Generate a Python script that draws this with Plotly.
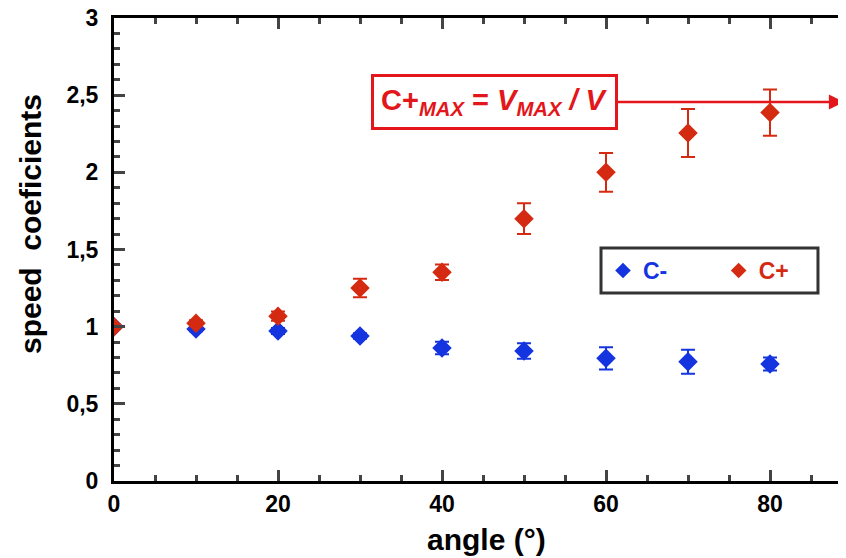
import plotly.graph_objects as go

angles = [0, 10, 20, 30, 40, 50, 60, 70, 80]
c_minus = [1.0, 0.985, 0.972, 0.94, 0.862, 0.842, 0.795, 0.773, 0.758]
c_minus_err = [0.0, 0.015, 0.02, 0.018, 0.04, 0.05, 0.072, 0.078, 0.042]
c_plus = [1.0, 1.022, 1.068, 1.25, 1.352, 1.70, 2.0, 2.255, 2.387]
c_plus_err = [0.0, 0.02, 0.03, 0.06, 0.05, 0.10, 0.125, 0.156, 0.15]

y_tickvals = [0, 0.5, 1, 1.5, 2, 2.5, 3]
y_ticktext = ["0", "0,5", "1", "1,5", "2", "2,5", "3"]
x_tickvals = [0, 20, 40, 60, 80]

BLUE = "#1434e0"
RED = "#d52a12"
ANN_RED = "#e3161b"
FONT = "Liberation Sans, Arial, sans-serif"

fig = go.Figure()
fig.add_trace(go.Scatter(
    x=angles, y=c_minus, mode="markers", name="C-", legend="legend",
    marker=dict(symbol="diamond", size=15, color=BLUE),
    error_y=dict(type="data", array=c_minus_err, color=BLUE, thickness=2, width=7),
))
fig.add_trace(go.Scatter(
    x=angles, y=c_plus, mode="markers", name="C+", legend="legend2",
    marker=dict(symbol="diamond", size=15, color=RED),
    error_y=dict(type="data", array=c_plus_err, color=RED, thickness=2, width=7),
))

leg_common = dict(orientation="h", y=0.4546, yanchor="middle", xanchor="left",
                  bgcolor="rgba(0,0,0,0)", borderwidth=0, itemsizing="constant")

# page body adds an 8px offset; margins compensate, the right frame edge lies just past the window
fig.update_layout(
    width=846, height=550,
    margin=dict(l=106, r=2, t=10, b=77, autoexpand=False),
    plot_bgcolor="white", paper_bgcolor="white",
    font=dict(family=FONT, color="black"),
    showlegend=True,
    legend=dict(x=0.6626, font=dict(family=FONT, size=23, weight="bold", color=BLUE), **leg_common),
    legend2=dict(x=0.8193, font=dict(family=FONT, size=23, weight="bold", color=RED), **leg_common),
    xaxis=dict(
        range=[0, 90], tickvals=x_tickvals, ticks="inside", ticklen=11, tickwidth=2.5,
        showline=True, linewidth=3, linecolor="black", mirror="ticks",
        showgrid=False, zeroline=False, automargin=False, ticklabeloverflow="allow",
        tickfont=dict(size=23, weight="bold", family=FONT),
        minor=dict(dtick=5, ticks="inside", ticklen=6, tickwidth=2.5, showgrid=False),
    ),
    yaxis=dict(
        range=[0, 3], tickvals=y_tickvals, ticktext=y_ticktext, ticks="inside",
        ticklen=11, tickwidth=2.5, ticklabelstandoff=8,
        showline=True, linewidth=3, linecolor="black", mirror="ticks",
        showgrid=False, zeroline=False, automargin=False, ticklabeloverflow="allow",
        tickfont=dict(size=23, weight="bold", family=FONT),
        minor=dict(dtick=0.1, ticks="inside", ticklen=6, tickwidth=2.5, showgrid=False),
    ),
)

# legend frame
fig.add_shape(type="rect", xref="paper", yref="paper",
              x0=0.6599, x1=0.9539, y0=0.406, y1=0.503,
              line=dict(color="#333333", width=3), fillcolor="rgba(0,0,0,0)")

fig.add_annotation(
    x=0.5054, xref="paper", y=-0.127, yref="paper",
    text="<b>angle (°)</b>", showarrow=False,
    font=dict(size=30, family=FONT, color="black"),
    xanchor="center", yanchor="middle",
)
fig.add_annotation(
    x=-0.1138, xref="paper", y=0.555, yref="paper",
    text="<b>speed  coeficients</b>", showarrow=False, textangle=-90,
    font=dict(size=30, family=FONT, color="black"),
    xanchor="center", yanchor="middle",
)

fig.add_annotation(
    x=0.989, xref="paper", y=2.456, yref="y",
    ax=-349, ay=0, axref="pixel", ayref="pixel",
    text="<b>C+<sub><i>MAX</i></sub> = <i>V<sub>MAX</sub> / V</i></b>",
    font=dict(size=29, color=ANN_RED, family=FONT),
    showarrow=True, arrowhead=2, arrowsize=1.2, arrowwidth=2.5, arrowcolor=ANN_RED,
    bordercolor=ANN_RED, borderwidth=3, borderpad=7, bgcolor="white",
)

fig.write_html("out.html")
